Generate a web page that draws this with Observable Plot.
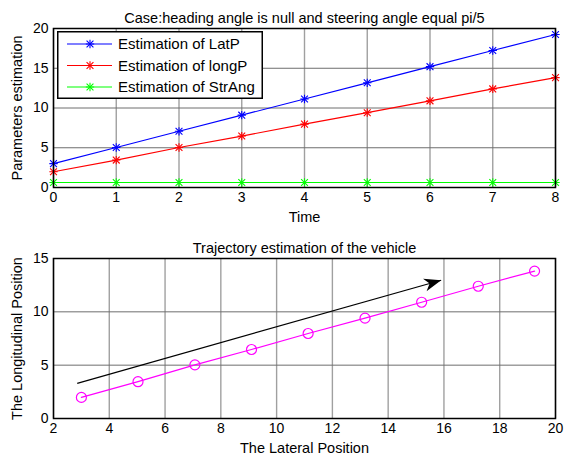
<!DOCTYPE html>
<html>
<head>
<meta charset="utf-8">
<script src="https://cdn.jsdelivr.net/npm/d3@7"></script>
<script src="https://cdn.jsdelivr.net/npm/@observablehq/plot@0.6"></script>
<style>
  html, body { margin: 0; padding: 0; background: #fff; }
  #wrap { position: relative; width: 564px; height: 461px; overflow: hidden; font-family: "Liberation Sans", Arial, sans-serif; }
  .panel { position: absolute; left: 0; }
  #legend { position: absolute; left: 57px; top: 31px; }
</style>
</head>
<body>
<div id="wrap">
  <div class="panel" id="top" style="top:0px"></div>
  <div class="panel" id="bottom" style="top:230px"></div>
  <div id="legend"></div>
</div>
<script>
// ---- data ----
const time = [0, 1, 2, 3, 4, 5, 6, 7, 8];
const latP = [3.0, 5.03, 7.07, 9.1, 11.13, 13.17, 15.2, 17.23, 19.25];
const longP = [1.98, 3.45, 5.03, 6.47, 7.97, 9.41, 10.9, 12.4, 13.82];
const strAng = [0.63, 0.63, 0.63, 0.63, 0.63, 0.63, 0.63, 0.63, 0.63];
const seriesNames = ["Estimation of LatP", "Estimation of longP", "Estimation of StrAng"];
const seriesColors = ["#0000ff", "#ff0000", "#00ff00"];
const topTitle = "Case:heading angle is null and steering angle equal pi/5";
const topXLabel = "Time";
const topYLabel = "Parameters estimation";
const topXTicks = [0, 1, 2, 3, 4, 5, 6, 7, 8];
const topYTicks = [0, 5, 10, 15, 20];
const botTitle = "Trajectory estimation of the vehicle";
const botXLabel = "The Lateral Position";
const botYLabel = "The Longitudinal Position";
const botXTicks = [2, 4, 6, 8, 10, 12, 14, 16, 18, 20];
const botYTicks = [0, 5, 10, 15];
const trajColor = "#ff00ff";
const arrowStart = [2.85, 3.3];
const arrowEnd = [15.9, 12.96];

// ---- layout ----
const W = 564, H1 = 230, H2 = 231;
const mT = 28, mB = 43, mL = 53, mR = 9;
const font = "Liberation Sans, Arial, sans-serif";
const style = { fontFamily: font, fontSize: "14px", background: "white", color: "black", overflow: "visible" };
const gridV = { stroke: "#a0a0a0", strokeOpacity: 1, strokeWidth: 1.4 };
const gridH = { stroke: "#6e6e6e", strokeOpacity: 1, strokeWidth: 1 };

const rows = [];
[latP, longP, strAng].forEach((arr, i) => arr.forEach((v, j) => rows.push({ series: seriesNames[i], t: time[j], v })));

function labels(title, xl, yl) {
  return [
    Plot.text([title], { frameAnchor: "top", dy: -16, fontSize: 14.5, fill: "black", textAnchor: "middle" }),
    Plot.text([xl], { frameAnchor: "bottom", dy: 34, fontSize: 14.5, fill: "black", textAnchor: "middle" }),
    Plot.text([yl], { frameAnchor: "left", dx: -36, rotate: -90, fontSize: 14.5, fill: "black", textAnchor: "middle" })
  ];
}

const topPlot = Plot.plot({
  width: W, height: H1, marginTop: mT, marginBottom: mB, marginLeft: mL, marginRight: mR,
  style,
  x: { domain: [0, 8], ticks: topXTicks, tickSize: 0, tickPadding: 5, label: null, tickFormat: d => String(d) },
  y: { domain: [0, 20], ticks: topYTicks, tickSize: 0, tickPadding: 5, label: null, tickFormat: d => String(d) },
  color: { domain: seriesNames, range: seriesColors },
  marks: [
    Plot.ruleX(topXTicks, gridV),
    Plot.ruleY(topYTicks, gridH),
    Plot.line(rows, { x: "t", y: "v", z: "series", stroke: "series", strokeWidth: 1.2 }),
    Plot.dot(rows, { x: "t", y: "v", stroke: "series", symbol: "plus", r: 2.8, strokeWidth: 1.1 }),
    Plot.dot(rows, { x: "t", y: "v", stroke: "series", symbol: "times", r: 3.2, strokeWidth: 1.1 }),
    Plot.frame({ stroke: "black", strokeWidth: 1.5 }),
    ...labels(topTitle, topXLabel, topYLabel)
  ]
});
document.getElementById("top").appendChild(topPlot);

// arrow head as custom symbol (tip at origin, pointing right)
const arrowHead = {
  draw(ctx) {
    ctx.moveTo(0, 0);
    ctx.lineTo(-17, -6.5);
    ctx.lineTo(-12, 0);
    ctx.lineTo(-17, 6.5);
    ctx.closePath();
  }
};
const pxX = (W - mL - mR) / (20 - 2);
const pxY = (H2 - mT - mB) / (15 - 0);
const arrowAngle = Math.atan2(-(arrowEnd[1] - arrowStart[1]) * pxY, (arrowEnd[0] - arrowStart[0]) * pxX) * 180 / Math.PI;

const traj = latP.map((x, i) => ({ x, y: longP[i] }));
const botPlot = Plot.plot({
  width: W, height: H2, marginTop: mT, marginBottom: mB, marginLeft: mL, marginRight: mR,
  style,
  x: { domain: [2, 20], ticks: botXTicks, tickSize: 0, tickPadding: 5, label: null, tickFormat: d => String(d) },
  y: { domain: [0, 15], ticks: botYTicks, tickSize: 0, tickPadding: 5, label: null, tickFormat: d => String(d) },
  marks: [
    Plot.ruleX(botXTicks, gridV),
    Plot.ruleY(botYTicks, gridH),
    Plot.line(traj, { x: "x", y: "y", stroke: trajColor, strokeWidth: 1.2 }),
    Plot.dot(traj, { x: "x", y: "y", stroke: trajColor, fill: "none", r: 5, strokeWidth: 1.2 }),
    Plot.link([{ x1: arrowStart[0], y1: arrowStart[1], x2: arrowEnd[0], y2: arrowEnd[1] }], { x1: "x1", y1: "y1", x2: "x2", y2: "y2", stroke: "black", strokeWidth: 1.2 }),
    Plot.dot([{ x: arrowEnd[0], y: arrowEnd[1] }], { x: "x", y: "y", symbol: arrowHead, fill: "black", stroke: "none", rotate: arrowAngle, r: 5 }),
    Plot.frame({ stroke: "black", strokeWidth: 1.5 }),
    ...labels(botTitle, botXLabel, botYLabel)
  ]
});
document.getElementById("bottom").appendChild(botPlot);

// ---- legend ----
const lw = 206, lh = 68;
const lsvg = d3.select("#legend").append("svg").attr("width", lw).attr("height", lh);
lsvg.append("rect").attr("x", 0.75).attr("y", 0.75).attr("width", lw - 1.5).attr("height", lh - 1.5)
  .attr("fill", "white").attr("stroke", "black").attr("stroke-width", 1.5);
seriesNames.forEach((name, i) => {
  const cy = 13 + i * 21.5;
  const g = lsvg.append("g");
  g.append("line").attr("x1", 10).attr("x2", 55).attr("y1", cy).attr("y2", cy)
    .attr("stroke", seriesColors[i]).attr("stroke-width", 1.2);
  g.append("path").attr("transform", `translate(33,${cy})`)
    .attr("d", d3.symbol(d3.symbolPlus, Math.PI * 2.8 * 2.8)()).attr("fill", "none").attr("stroke", seriesColors[i]).attr("stroke-width", 1.1);
  g.append("path").attr("transform", `translate(33,${cy})`)
    .attr("d", d3.symbol(d3.symbolTimes, Math.PI * 3.2 * 3.2)()).attr("fill", "none").attr("stroke", seriesColors[i]).attr("stroke-width", 1.1);
  g.append("text").attr("x", 61).attr("y", cy).attr("dy", "0.35em")
    .attr("font-family", font).attr("font-size", 15).attr("fill", "black").text(name);
});
</script>
</body>
</html>
